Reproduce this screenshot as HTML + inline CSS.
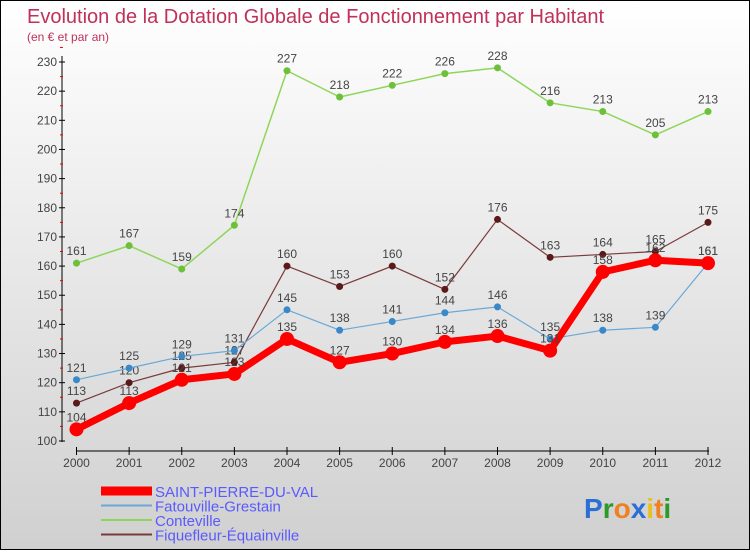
<!DOCTYPE html>
<html><head><meta charset="utf-8"><style>
body{margin:0;width:750px;height:550px;overflow:hidden;font-family:"Liberation Sans",sans-serif}
#c{position:absolute;left:0;top:0;width:750px;height:550px;box-sizing:border-box;border:1px solid #000;background:linear-gradient(#fff,#ececec 40%,#d0d0d0)}
</style></head><body>
<div id="c">
<svg id="s" width="750" height="550" xmlns="http://www.w3.org/2000/svg">
<text x="26" y="22" font-size="20" fill="#c0305a">Evolution de la Dotation Globale de Fonctionnement par Habitant</text>
<text x="26" y="40" font-size="12" fill="#c0305a">(en € et par an)</text>
<g id="axes"></g><g id="series"></g><g id="legend"></g>
<text x="583" y="517" font-size="28" font-weight="bold"><tspan fill="#2a6fd6">P</tspan><tspan fill="#2a9a2a">r</tspan><tspan fill="#f08020">o</tspan><tspan fill="#2a6fd6">x</tspan><tspan fill="#e8c020">i</tspan><tspan fill="#f08020">t</tspan><tspan fill="#2a9a2a">i</tspan></text>
</svg></div>
<script>
const years=[2000,2001,2002,2003,2004,2005,2006,2007,2008,2009,2010,2011,2012];
const yTicks=[100,110,120,130,140,150,160,170,180,190,200,210,220,230];
const spdv=[104,113,121,123,135,127,130,134,136,131,158,162,161];
const fatouville=[121,125,129,131,145,138,141,144,146,135,138,139,161];
const conteville=[161,167,159,174,227,218,222,226,228,216,213,205,213];
const fiquefleur=[113,120,125,127,160,153,160,152,176,163,164,165,175];
const names=["SAINT-PIERRE-DU-VAL","Fatouville-Grestain","Conteville","Fiquefleur-Équainville"];
const NS="http://www.w3.org/2000/svg";
const X=i=>75.5+i*(707-75.5)/(years.length-1);
const Y=v=>440-(v-100)*(440-61)/130;
function mk(tag,at,parent){const e=document.createElementNS(NS,tag);for(const k in at)e.setAttribute(k,at[k]);parent.appendChild(e);return e;}
const ax=document.getElementById('axes');
let a=mk('line',{x1:61,y1:55,x2:61,y2:441,stroke:'#000'},ax);


yTicks.forEach(v=>{
 mk('line',{x1:58,x2:64,y1:Y(v),y2:Y(v),stroke:'#000'},ax);
 mk('line',{x1:59,x2:62,y1:Y(v+5),y2:Y(v+5),stroke:'#e00'},ax);
 const t=mk('text',{x:56,y:Y(v)+4,'text-anchor':'end','font-size':12,fill:'#444'},ax);t.textContent=v;
 
 
});
a=mk('line',{x1:75,y1:450,x2:708,y2:450,stroke:'#000'},ax);


years.forEach((y,i)=>{
 mk('line',{x1:X(i),x2:X(i),y1:446,y2:454,stroke:'#000'},ax);
 const t=mk('text',{x:X(i),y:466,'text-anchor':'middle','font-size':12,fill:'#444'},ax);t.textContent=y;
 
 
});
const sg=document.getElementById('series');
const defs=[[conteville,'#8ed65a','#6cc03a',1.5,3.5,'conteville'],[fiquefleur,'#7a3a3a','#5a1a1a',1.2,3.5,'fiquefleur'],[fatouville,'#6aa8d8','#3a88c8',1.2,3.5,'fatouville'],[spdv,'#f00','#f00',7,7,'spdv']];
defs.forEach(([d,c,pc,w,r,n])=>{
 const p=mk('polyline',{points:d.map((v,i)=>X(i)+','+Y(v)).join(' '),fill:'none',stroke:c,'stroke-width':w,'stroke-linejoin':'round'},sg);
 
 
 d.forEach((v,i)=>{
  const m=mk('circle',{cx:X(i),cy:Y(v),r:r,fill:pc},sg);
  
  
  const t=mk('text',{x:X(i),y:Y(v)-8,'text-anchor':'middle','font-size':12,fill:'#444'},sg);t.textContent=v;
  
  
 });
});
const lg=document.getElementById('legend');
const lc=['#f00','#6aa8d8','#8ed65a','#7a3a3a'],lw=[9,2,2,2];
names.forEach((n,i)=>{
 const y=493+i*14.5;
 const l=mk('line',{x1:100,x2:151,y1:y-3,y2:y-3,stroke:lc[i],'stroke-width':lw[i]},lg);
 
 
 const t=mk('text',{x:154,y:y+3,'font-size':15,fill:'#5a5aff'},lg);t.textContent=n;
 
 
});
</script>
</body></html>
